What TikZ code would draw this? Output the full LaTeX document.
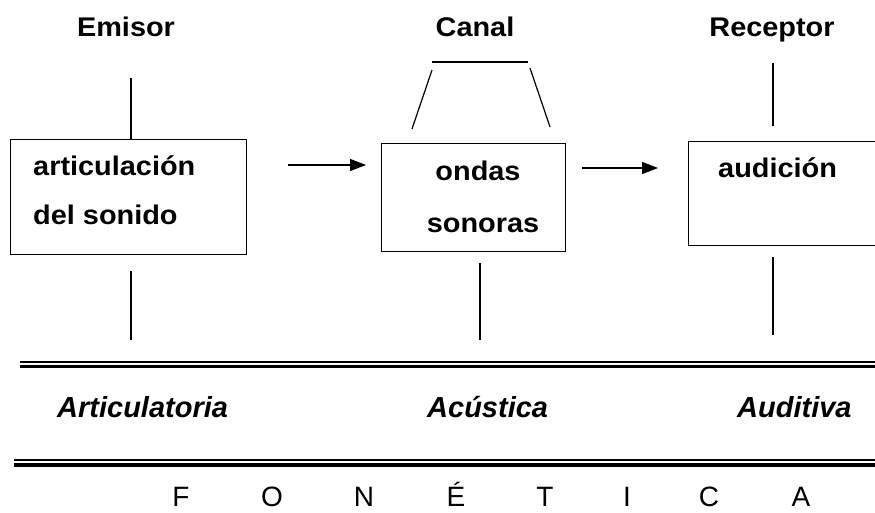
\documentclass[tikz,border=0pt]{standalone}
\usepackage{fontspec}
\setmainfont{Liberation Sans}
\newfontfamily\wide{Liberation Sans}[FakeStretch=1.07]
\usetikzlibrary{arrows.meta}
\tikzset{
  box/.style={draw=black, line width=1.2pt, anchor=north west, inner sep=0pt},
  lbl/.style={inner sep=0pt, font=\wide\bfseries\fontsize{27}{32}\selectfont},
  itl/.style={inner sep=0pt, anchor=base west, font=\bfseries\itshape\fontsize{29}{34}\selectfont},
  letter/.style={inner sep=0pt, anchor=base, font=\fontsize{28}{32}\selectfont},
  conn/.style={line width=1.2pt},
  arr/.style={line width=1.2pt, -{Triangle[length=16pt,width=12pt]}},
  thinrule/.style={line width=2pt},
  thickrule/.style={line width=3.2pt}
}
\begin{document}
\begin{tikzpicture}[x=1pt,y=-1pt]
\clip (0,0) rectangle (875,513);
\fill[white] (0,0) rectangle (875,513);

% boxes
\node[box, minimum width=236pt, minimum height=115pt] (b1) at (10,139) {};
\node[box, minimum width=184pt, minimum height=108pt] (b2) at (381,143) {};
\node[box, minimum width=200pt, minimum height=104pt] (b3) at (688,141) {};

% headers
\node[lbl, anchor=base] (emisor) at (126,37) {Emisor};
\node[lbl, anchor=base] (canal) at (475,37) {Canal};
\node[lbl, anchor=base] (receptor) at (772,37) {Receptor};

% box texts
\node[lbl, anchor=base west] (t1a) at (33,176) {articulación};
\node[lbl, anchor=base west] (t1b) at (33,224) {del sonido};
\node[lbl, anchor=base] (t2a) at (478,181) {ondas};
\node[lbl, anchor=base] (t2b) at (483,232) {sonoras};
\node[lbl, anchor=base west] (t3a) at (718,178) {audición};

% vertical connectors
\coordinate (e1) at (131,78);
\coordinate (e2) at (131,340);
\draw[conn] (e1) -- (e1 |- b1.north);
\draw[conn] (e2 |- 0,271) -- (e2);
\coordinate (c2) at (480,340);
\draw[conn] (c2 |- 0,263) -- (c2);
\coordinate (r1) at (773,63);
\coordinate (r1b) at (773,126);
\draw[conn] (r1) -- (r1b);
\coordinate (r2a) at (773,257);
\coordinate (r2b) at (773,335);
\draw[conn] (r2a) -- (r2b);

% canal trapezoid
\coordinate (k1) at (432,62);
\coordinate (k2) at (528,62);
\coordinate (k3) at (432,70);
\coordinate (k4) at (412,129);
\coordinate (k5) at (530,68);
\coordinate (k6) at (550,127);
\draw[conn] (k1) -- (k2);
\draw[conn] (k3) -- (k4);
\draw[conn] (k5) -- (k6);

% arrows
\coordinate (a1s) at (288,165);
\coordinate (a1e) at (366,165);
\coordinate (a2s) at (582,168);
\coordinate (a2e) at (658,168);
\draw[arr] (a1s) -- (a1e);
\draw[arr] (a2s) -- (a2e);

% double rules
\coordinate (d1a) at (20,361.5);
\coordinate (d1b) at (880,361.5);
\coordinate (d2a) at (20,366.5);
\coordinate (d2b) at (880,366.5);
\draw[thinrule] (d1a) -- (d1b);
\draw[thickrule] (d2a) -- (d2b);
\coordinate (d3a) at (14,459.5);
\coordinate (d3b) at (880,459.5);
\coordinate (d4a) at (14,465);
\coordinate (d4b) at (880,465);
\draw[thinrule] (d3a) -- (d3b);
\draw[thickrule] (d4a) -- (d4b);

% italic labels
\node[itl] (art) at (57,417) {Articulatoria};
\node[itl] (acu) at (427,417) {Acústica};
\node[itl] (aud) at (737,417) {Auditiva};

% FONÉTICA
\node[letter] (f1) at (181,506) {F};
\node[letter] (f2) at (272,506) {O};
\node[letter] (f3) at (364,506) {N};
\node[letter] (f4) at (456,506) {É};
\node[letter] (f5) at (545,506) {T};
\node[letter] (f6) at (627,506) {I};
\node[letter] (f7) at (709,506) {C};
\node[letter] (f8) at (801,506) {A};
\end{tikzpicture}
\end{document}
